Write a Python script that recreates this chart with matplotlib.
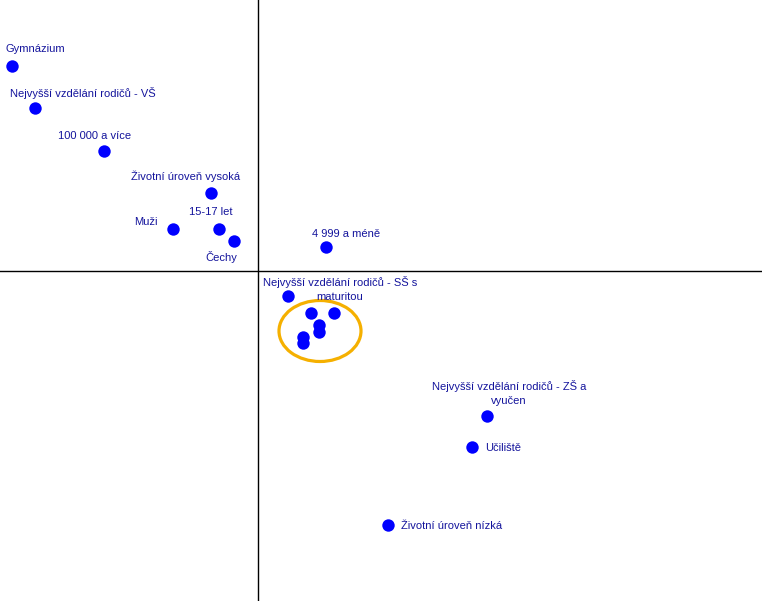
# correspondence map - recreation
import matplotlib
matplotlib.use("Agg")
import matplotlib.pyplot as plt
from matplotlib.patches import Ellipse

# point coordinates (dimension 1, dimension 2)
labels = [
    "Gymnázium",
    "Nejvyšší vzdělání rodičů - VŠ",
    "100 000 a více",
    "Životní úroveň vysoká",
    "Muži",
    "15-17 let",
    "Čechy",
    "4 999 a méně",
    "Nejvyšší vzdělání rodičů - SŠ s\nmaturitou",
    "Nejvyšší vzdělání rodičů - ZŠ a\nvyučen",
    "Učiliště",
    "Životní úroveň nízká",
]
dim1 = [-2.46, -2.23, -1.54, -0.47, -0.85, -0.39, -0.24, 0.68, 0.30, 2.29, 2.14, 1.30]
dim2 = [2.05, 1.63, 1.20, 0.78, 0.42, 0.42, 0.30, 0.24, -0.25, -1.45, -1.76, -2.54]

# unlabelled points inside the highlighted cluster
cluster_dim1 = [0.53, 0.76, 0.61, 0.61, 0.45, 0.45]
cluster_dim2 = [-0.42, -0.42, -0.54, -0.61, -0.66, -0.72]

# label placement (pixels from the point)
offsets = [(23, 17), (48, 15), (-9, 15), (-25, 17), (-27, 7), (-8, 17),
           (-13, -16), (20, 13), (52, 7), (22, 23), (31, -1), (64, -1)]

plt.rcParams['font.family'] = ['Liberation Sans', 'DejaVu Sans']

fig = plt.figure(figsize=(7.62, 6.01), dpi=100)
ax = fig.add_axes([0, 0, 1, 1])
ax.set_xlim(-2.58, 5.04)
ax.set_ylim(-3.30, 2.71)
ax.axis('off')

ax.axvline(0, color='black', lw=1)
ax.axhline(0, color='black', lw=1)

ax.scatter(dim1, dim2, s=80, color='#0000ff', zorder=3, linewidths=0)
ax.scatter(cluster_dim1, cluster_dim2, s=80, color='#0000ff', zorder=3, linewidths=0)

for lab, x, y, (dx, dy) in zip(labels, dim1, dim2, offsets):
    ax.annotate(lab, (x, y), xytext=(dx, dy), textcoords='offset pixels',
                ha='center', va='center', multialignment='center',
                fontsize=8, color='#14149c', linespacing=1.4)

ax.add_patch(Ellipse((0.62, -0.60), 0.82, 0.61, fill=False,
                     edgecolor='#f5b000', lw=2.3, zorder=2))

fig.savefig("out.png", dpi=100)
